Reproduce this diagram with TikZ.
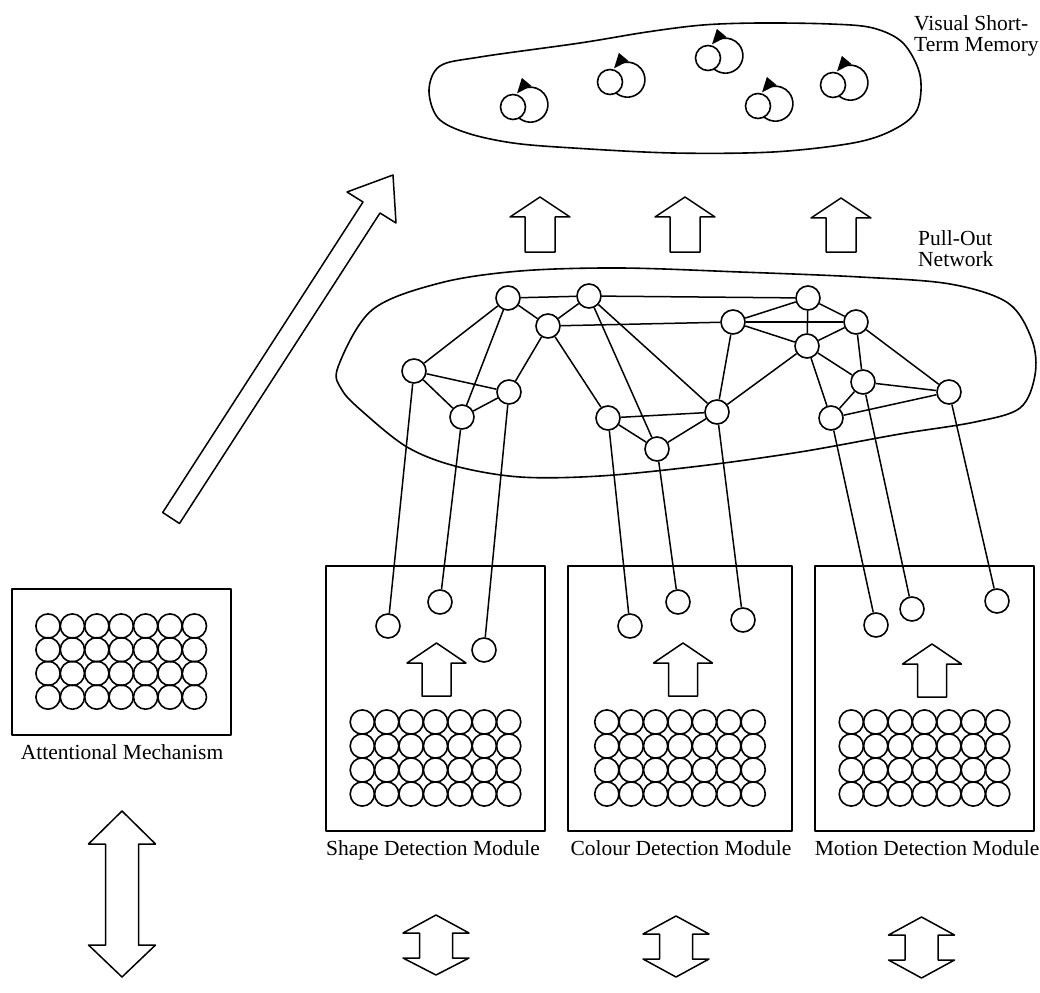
\documentclass[tikz,border=0pt]{standalone}
\usepackage{fontspec}
\setmainfont{Liberation Serif}
\usetikzlibrary{arrows.meta}

% block arrow pointing up: x, tip y, head base y, bottom y, half head width, half shaft width
\newcommand\upblock[6]{%
  \draw[block] (#1-#6,#4) -- (#1-#6,#3) -- (#1-#5,#3) -- (#1,#2) -- (#1+#5,#3)
    -- (#1+#6,#3) -- (#1+#6,#4) -- cycle;}
% double-headed block arrow: x, top tip, top head base, bottom head base, bottom tip, half head, half shaft
\newcommand\dblblock[7]{%
  \draw[block] (#1,#2) -- (#1+#6,#3) -- (#1+#7,#3) -- (#1+#7,#4) -- (#1+#6,#4)
    -- (#1,#5) -- (#1-#6,#4) -- (#1-#7,#4) -- (#1-#7,#3) -- (#1-#6,#3) -- cycle;}

\begin{document}
\begin{tikzpicture}[x=1pt,y=-1pt,line join=round,
  unit/.style={circle, draw, fill=white, line width=1.6pt, minimum size=24pt, inner sep=0pt},
  memunit/.style={circle, draw, fill=white, line width=1.6pt, minimum size=25pt, inner sep=0pt},
  cell/.style={circle, draw, line width=1.6pt, minimum size=24.2pt, inner sep=0pt},
  link/.style={line width=1.5pt},
  blob/.style={line width=1.6pt},
  panel/.style={draw, line width=1.5pt, inner sep=0pt},
  block/.style={draw, line width=1.5pt, fill=white},
  lbl/.style={font=\fontsize{21.5}{21}\selectfont, inner sep=0pt},
]
\useasboundingbox (0,0) rectangle (1040,992);

% ---------- visual short-term memory ----------
\draw[blob] plot[smooth cycle, tension=0.55] coordinates {
  (429,90) (440,66) (480,57) (580,43) (647,32) (703,25) (760,23) (830,24)
  (873,28) (903,43) (920,75) (917,110) (893,130) (853,143) (773,152)
  (673,153) (573,148) (513,143) (467,133) (438,118)};

\foreach \n/\x/\y in {1/513/107, 2/610/82, 3/708/58, 4/758/106, 5/833/85} {
  \draw[link, line width=1.6pt, -{Triangle[length=15pt,width=12pt]}]
    (\x+4,\y+8.9) arc[start angle=140, end angle=-140, radius=17.5];
  \node[memunit] (v\n) at (\x,\y) {};
}

\node[lbl, anchor=base west] (vstm1) at (914,31) {Visual Short-};
\node[lbl, anchor=base west] (vstm2) at (914,52) {Term Memory};

% ---------- arrows into memory ----------
\upblock{540}{197}{217}{252}{30}{15}
\upblock{685}{197}{217}{252}{30}{15}
\upblock{841}{198}{218}{252}{30}{15}

% attention feeding memory
\draw[block] (393,175) -- (396,223) -- (380,213) -- (179.5,523.5) -- (162.7,512.5)
  -- (363,202) -- (347,192) -- cycle;

% ---------- pull-out network ----------
\draw[blob] plot[smooth cycle, tension=0.55] coordinates {
  (338,367) (372,310) (440,283) (520,271) (620,268) (740,272) (860,277)
  (950,284) (1008,303) (1032,340) (1035,375) (1020,408) (975,422) (900,434)
  (800,452) (700,466) (600,476) (520,477) (455,466) (407,447) (363,412) (342,390)};

\node[lbl, anchor=base west] (pon1) at (918,245) {Pull-Out};
\node[lbl, anchor=base west] (pon2) at (918,266) {Network};

\foreach \n/\x/\y in {A/508/298, B/589/296, C/548/326, D/414/371, E/509/392,
  F/462/417, G/608/418, H/657/449, I/717/412, J/733/322, K/808/298,
  L/856/322, M/807/346, N/863/382, O/949/392, P/831/418}
  \node[unit] (\n) at (\x,\y) {};

\foreach \a/\b in {A/B, A/C, C/B, C/J, A/D, A/F, D/E, D/F, F/E, E/C, C/G,
  B/H, B/I, G/I, G/H, H/I, B/K, J/I, J/K, J/L, J/M, K/M, K/L, L/M, M/I,
  M/N, L/N, L/O, N/O, N/P, P/O, M/P}
  \draw[link] (\a) -- (\b);

% ---------- attentional mechanism ----------
\node[panel, minimum width=219pt, minimum height=146pt] (att) at (121.5,662) {};
\foreach \i in {0,...,6}
  \foreach \j in {0,...,3}
    \node[cell] (a-\i-\j) at (48+24.4*\i, 626+23.7*\j) {};
\node[lbl, anchor=base] (attlbl) at (122,759) {Attentional Mechanism};
\dblblock{122}{811}{844}{945}{977}{33.5}{16.5}

% ---------- detection modules ----------
\node[panel, minimum width=219pt, minimum height=265pt] (shape) at (435.5,698.5) {};
\node[panel, minimum width=224pt, minimum height=265pt] (colour) at (680,698.5) {};
\node[panel, minimum width=219pt, minimum height=265pt] (motion) at (924.5,698.5) {};

\foreach \m/\cx in {s/435.5, c/680, m/924.5}
  \foreach \i in {0,...,6}
    \foreach \j in {0,...,3}
      \node[cell] (\m-\i-\j) at (\cx-73.2+24.4*\i, 722+24*\j) {};

\upblock{436.5}{643}{663}{696}{29.5}{14.5}
\upblock{683}{643}{663}{696}{29.5}{14.5}
\upblock{932}{644}{664}{697}{29.5}{14.5}

\foreach \n/\x/\y in {s1/388/626, s2/440/602, s3/484/650, c1/630/626, c2/678/602,
  c3/743/620, m1/876/625, m2/912/609, m3/997/601}
  \node[unit] (\n) at (\x,\y) {};

\foreach \a/\b in {s1/D, s2/F, s3/E, c1/G, c2/H, c3/I, m1/P, m2/N, m3/O}
  \draw[link] (\a) -- (\b);

\node[lbl, anchor=base] (shapelbl) at (433,855) {Shape Detection Module};
\node[lbl, anchor=base] (colourlbl) at (681,855) {Colour Detection Module};
\node[lbl, anchor=base] (motionlbl) at (927,855) {Motion Detection Module};

\dblblock{436}{915}{933}{958}{975}{33}{16.5}
\dblblock{676}{916}{934}{959}{977}{33}{16.5}
\dblblock{921.5}{917}{935}{960}{978}{33}{16.5}
\end{tikzpicture}
\end{document}
